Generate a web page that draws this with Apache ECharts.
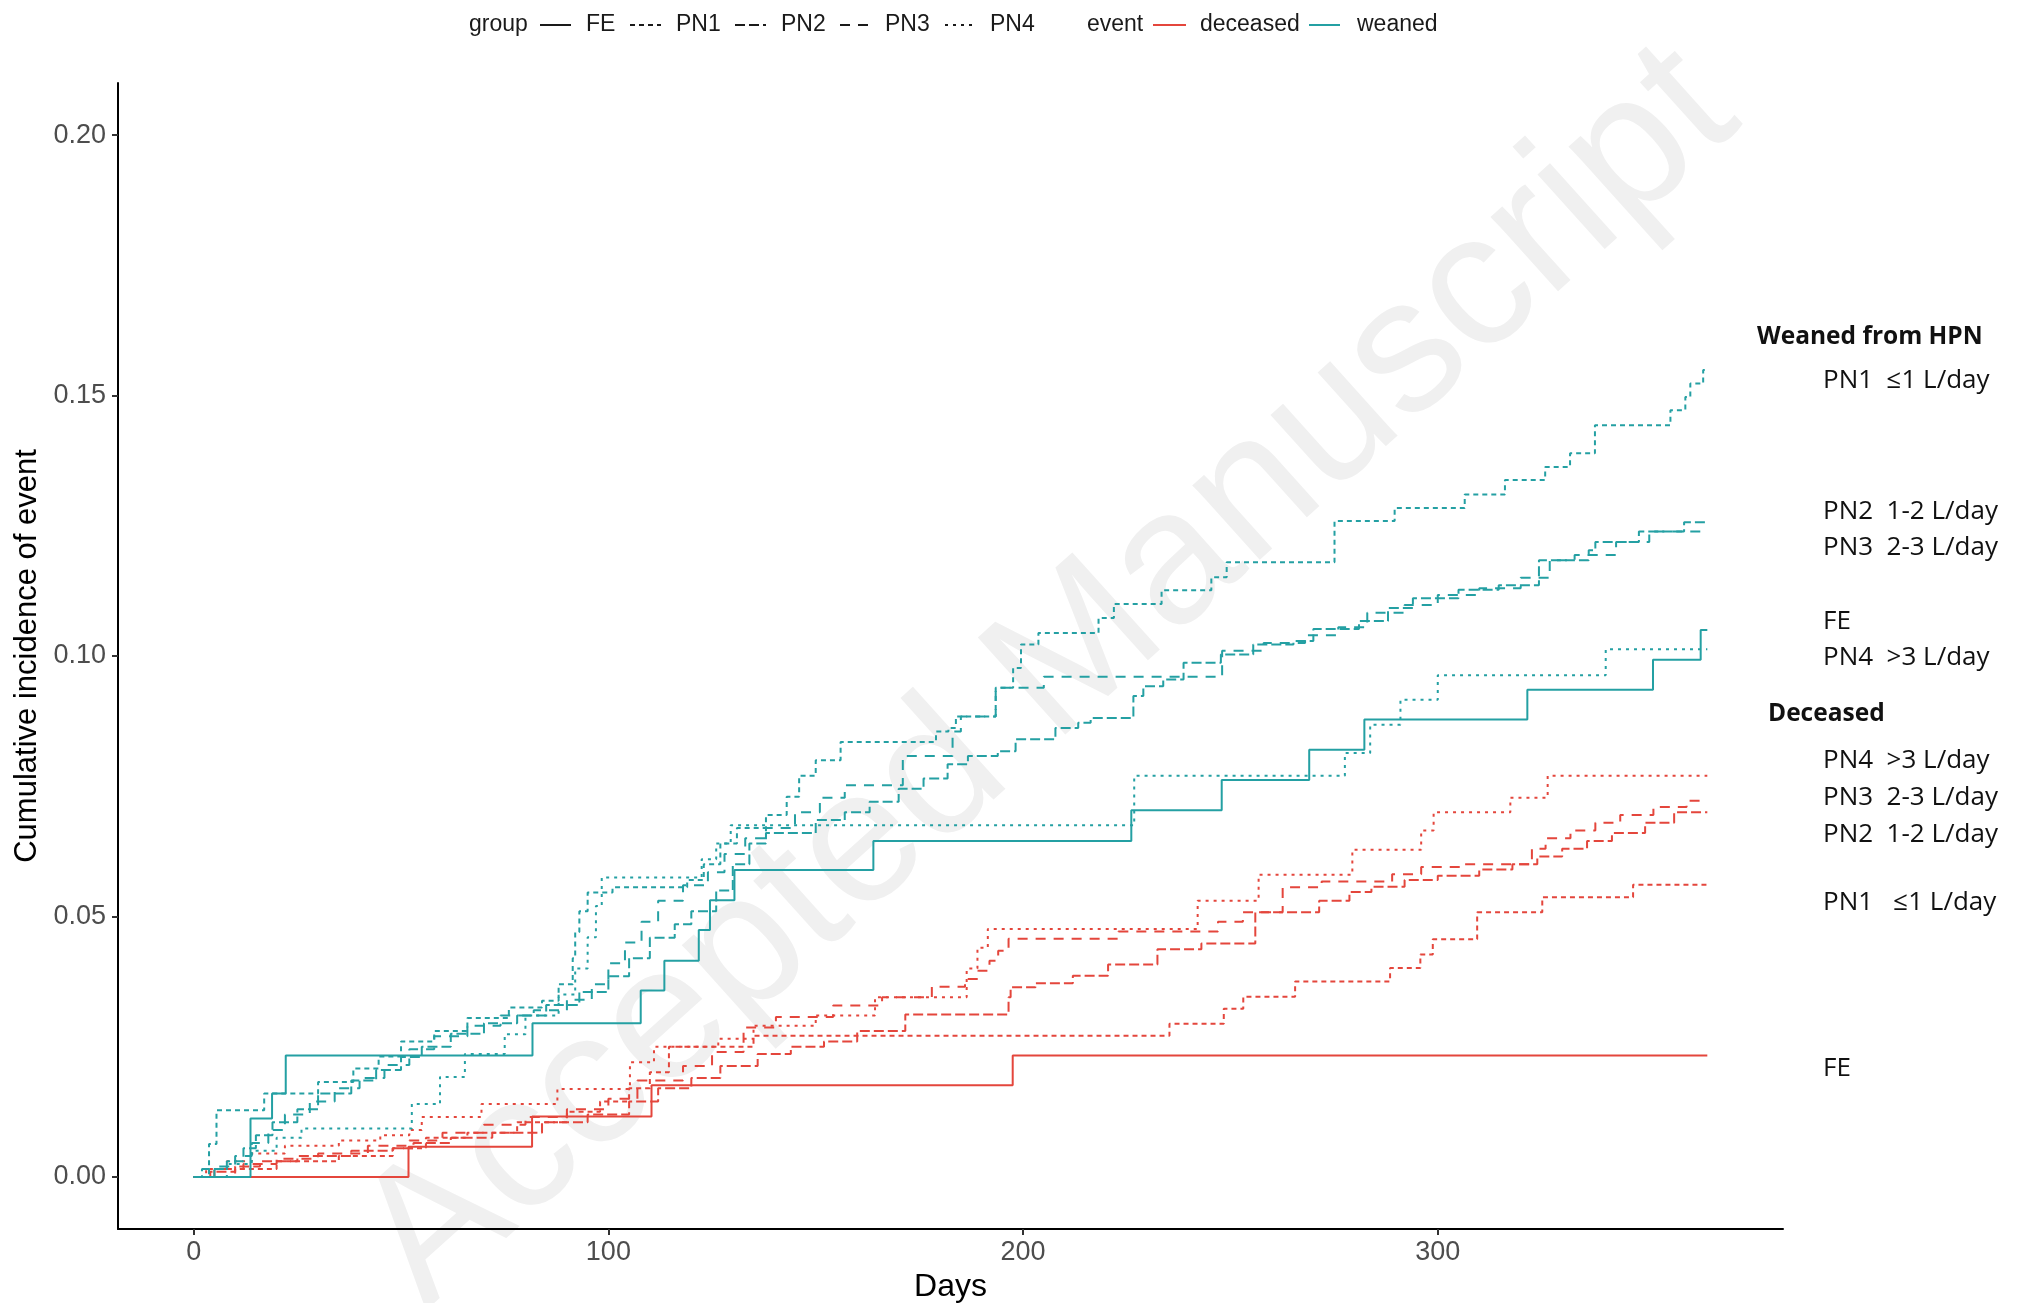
<!DOCTYPE html>
<html>
<head>
<meta charset="utf-8">
<script src="https://cdn.jsdelivr.net/npm/echarts@6/dist/echarts.min.js"></script>
<style>
html,body{margin:0;padding:0;background:#fff;}
#chart{width:2022px;height:1303px;}
</style>
</head>
<body>
<div id="chart"></div>
<script>
// ---------------- data (day, cumulative incidence) ----------------
const groups = ['FE', 'PN1', 'PN2', 'PN3', 'PN4'];
const events = ['deceased', 'weaned'];
const xTicks = [0, 100, 200, 300];
const yTicks = [0, 0.05, 0.10, 0.15, 0.20];

const FE_weaned = [[0,0],[13.7,0.0112],[18.9,0.016],[22.2,0.0233],[81.7,0.0295],[107.8,0.0358],[113.5,0.0415],[121.8,0.0474],[124.5,0.0531],[130.4,0.0589],[163.9,0.0645],[226.1,0.0704],[247.9,0.0762],[269,0.0820],[282.3,0.0878],[321.6,0.0935],[351.9,0.0993],[363.4,0.1050],[365,0.1050]];
const PN1_weaned = [[0,0],[3.7,0.0063],[5.5,0.0128],[17,0.016],[30,0.0182],[38.5,0.0208],[44.6,0.0231],[50,0.026],[58,0.028],[66,0.0305],[76,0.0325],[84,0.0338],[88,0.037],[91.4,0.042],[92,0.047],[93,0.051],[95,0.0546],[101,0.0556],[119,0.057],[123,0.060],[127,0.064],[131,0.067],[138,0.0695],[143,0.073],[146,0.077],[150,0.080],[156,0.0835],[179,0.0855],[182,0.0862],[183.8,0.0884],[193.4,0.0939],[197.6,0.0977],[199.5,0.1022],[203.7,0.1044],[218.2,0.1073],[221.9,0.110],[233.4,0.1126],[245.4,0.1151],[249.1,0.118],[275.1,0.1259],[289.6,0.1284],[306.5,0.131],[316.2,0.1338],[325.9,0.1363],[331.9,0.1389],[337.9,0.1443],[356.1,0.1472],[359.7,0.1497],[360.9,0.1523],[364,0.1549],[365,0.1549]];
const PN2_weaned = [[0,0],[2,0.0015],[8,0.003],[12,0.0055],[15,0.008],[19,0.0105],[25,0.013],[30,0.016],[38,0.0185],[44,0.0205],[50,0.023],[55,0.025],[62,0.0275],[70,0.0295],[78,0.031],[85,0.033],[93,0.0355],[100,0.0385],[105,0.042],[110,0.0459],[116,0.0485],[120,0.051],[126,0.055],[130,0.060],[134,0.064],[138,0.066],[150,0.0685],[157,0.0700],[163,0.072],[170,0.0745],[176,0.0765],[181.8,0.0792],[186.7,0.0808],[193.9,0.0817],[198.2,0.0840],[207.8,0.0862],[213.3,0.0872],[216.3,0.0881],[226.6,0.0923],[229,0.0942],[233.8,0.0955],[238.7,0.0987],[247.7,0.1003],[255.5,0.1022],[265.2,0.1029],[270,0.1052],[281,0.1067],[288,0.1092],[294,0.1111],[305,0.1127],[314.7,0.1136],[324.4,0.1184],[336.4,0.1203],[338,0.1219],[348.5,0.1239],[359.4,0.1257],[365,0.1257]];
const PN3_weaned = [[0,0],[5,0.002],[10,0.004],[14,0.0065],[18,0.009],[22,0.012],[28,0.0145],[34,0.017],[40,0.019],[46,0.0215],[52,0.0245],[58,0.027],[66,0.029],[74,0.031],[82,0.032],[90,0.034],[96,0.037],[100,0.041],[104,0.045],[108,0.049],[112,0.053],[118,0.056],[124,0.0585],[128,0.062],[133,0.065],[138,0.067],[145,0.070],[151,0.0728],[157,0.0752],[171,0.0808],[183,0.0855],[185,0.0884],[193.4,0.0939],[205,0.0960],[248,0.1010],[258,0.1025],[268,0.1040],[276,0.1055],[283,0.1083],[292,0.1098],[300,0.1117],[310,0.1130],[320,0.1150],[327,0.1184],[333,0.1194],[343,0.1219],[351,0.1239],[365,0.1239]];
const PN4_weaned = [[0,0],[8,0.0025],[14,0.005],[20,0.0075],[26,0.0093],[52.6,0.014],[59.4,0.0192],[65.4,0.0236],[75,0.0274],[80,0.031],[88,0.035],[92,0.040],[95,0.046],[97,0.052],[98.4,0.0575],[122.5,0.061],[126,0.064],[129.5,0.0675],[226.8,0.0770],[277.6,0.0814],[283.7,0.0868],[291,0.0916],[300,0.0963],[340.5,0.1013],[365,0.1013]];

const FE_deceased = [[0,0],[51.8,0.0058],[81.6,0.0116],[110.4,0.0176],[197.5,0.0233],[365,0.0233]];
const PN1_deceased = [[0,0],[10,0.0015],[20,0.003],[35,0.004],[48,0.0055],[56,0.0075],[66,0.0085],[78,0.0105],[90,0.0125],[98,0.0145],[105,0.017],[110,0.0201],[114.6,0.0250],[135,0.0271],[235.3,0.0294],[248.4,0.0323],[253.1,0.0346],[265.6,0.0375],[288.5,0.0401],[295.8,0.0427],[298.8,0.0456],[309.5,0.0508],[325.2,0.0537],[347.1,0.0561],[365,0.0561]];
const PN2_deceased = [[0,0],[4,0.001],[10,0.002],[16,0.003],[25,0.004],[38,0.005],[48,0.0055],[53,0.0065],[62,0.0075],[72,0.0085],[84,0.0105],[95,0.012],[105,0.0145],[112,0.0170],[120,0.019],[127,0.0213],[136,0.0236],[144,0.0250],[152,0.026],[160,0.0280],[171.6,0.0312],[196.5,0.0345],[197,0.0364],[203,0.0372],[212,0.0386],[220.5,0.0408],[232.4,0.0437],[243,0.0448],[256,0.0508],[271.4,0.053],[278.7,0.0547],[284,0.0557],[292,0.0570],[300,0.0578],[310,0.0590],[318,0.0600],[324,0.0615],[330,0.0630],[336,0.0645],[342,0.0660],[350,0.0680],[357,0.0700],[365,0.0700]];
const PN3_deceased = [[0,0],[5,0.0015],[12,0.0025],[20,0.0035],[30,0.0045],[42,0.006],[52,0.007],[60,0.0085],[70,0.010],[80,0.0115],[90,0.013],[100,0.015],[107,0.0185],[118,0.0213],[125,0.024],[132.6,0.0287],[140.4,0.0307],[154.2,0.0329],[166,0.0345],[178,0.0365],[186,0.0380],[189.2,0.0396],[191.9,0.0415],[194,0.0434],[196.5,0.0457],[223,0.0471],[247,0.049],[253,0.0508],[262.6,0.0556],[272,0.0567],[289,0.0581],[296,0.0595],[306.6,0.0600],[322.7,0.0630],[326,0.0650],[332,0.0665],[338,0.0680],[344,0.0695],[352,0.0710],[360,0.0722],[365,0.0722]];
const PN4_deceased = [[0,0],[3,0.0015],[8,0.003],[14,0.0045],[22,0.006],[35,0.007],[45,0.008],[52,0.009],[55,0.0115],[69.4,0.014],[87.7,0.0169],[105.2,0.022],[111,0.025],[126.5,0.0265],[135,0.0290],[150,0.0310],[164.3,0.0345],[186.4,0.0400],[189,0.0440],[191.5,0.0476],[242.1,0.053],[256.8,0.058],[279.4,0.0628],[296,0.0665],[299,0.0700],[317.5,0.0728],[326.5,0.0770],[365,0.0770]];

const curves = {
  deceased: {FE: FE_deceased, PN1: PN1_deceased, PN2: PN2_deceased, PN3: PN3_deceased, PN4: PN4_deceased},
  weaned:   {FE: FE_weaned,   PN1: PN1_weaned,   PN2: PN2_weaned,   PN3: PN3_weaned,   PN4: PN4_weaned}
};

// right-hand annotation texts
const weanedTitle = 'Weaned from HPN';
const weanedLabels = ['PN1  \u22641 L/day', 'PN2  1-2 L/day', 'PN3  2-3 L/day', 'FE', 'PN4  >3 L/day'];
const deceasedTitle = 'Deceased';
const deceasedLabels = ['PN4  >3 L/day', 'PN3  2-3 L/day', 'PN2  1-2 L/day', 'PN1   \u22641 L/day', 'FE'];

// ---------------- styles ----------------
const eventColor = {deceased: '#E4463C', weaned: '#24A0A3'};
const groupDash = {FE: 'solid', PN1: [5, 4], PN2: [10, 4], PN3: [10, 8], PN4: [3, 5]};
const AX = '"Liberation Sans", Arial, sans-serif';
const ANN = '"Open Sans", "Noto Sans", sans-serif';

const series = [];
events.forEach(ev => {
  groups.forEach(g => {
    series.push({
      name: g + ' ' + ev,
      type: 'line',
      step: 'end',
      showSymbol: false,
      symbol: 'none',
      silent: true,
      animation: false,
      data: curves[ev][g],
      lineStyle: {color: eventColor[ev], width: 2, type: groupDash[g]},
      z: 3
    });
  });
});

// ---------------- graphics: legend, annotations, watermark ----------------
function txt(x, y, text, font, color, align) {
  return {
    type: 'text', x: x, y: y, silent: true, z: 10,
    style: {text: text, font: font, fill: color || '#111',
      align: align || 'left', verticalAlign: 'middle',
      textAlign: align || 'left', textVerticalAlign: 'middle'}
  };
}
function seg(x1, x2, y, color, dash) {
  return {
    type: 'line', silent: true, z: 10,
    shape: {x1: x1, y1: y, x2: x2, y2: y},
    style: {stroke: color, lineWidth: 2, lineDash: dash === 'solid' ? null : dash}
  };
}
const LF = '23px ' + AX;
const LY = 25;
const DX = -4;
const graphics = [];
// watermark
graphics.push({
  type: 'text', x: 1050, y: 678, rotation: 42 * Math.PI / 180, silent: true, z: -10,
  style: {text: 'Accepted Manuscript', font: '190px ' + AX, fill: '#f0f0f0',
    align: 'center', verticalAlign: 'middle', textAlign: 'center', textVerticalAlign: 'middle'}
});
// legend
graphics.push(txt(473 + DX, LY, 'group', LF, '#1a1a1a'));
const legX = [[544, 590], [634, 680], [739, 785], [844, 889], [949, 994]];
groups.forEach((g, i) => {
  graphics.push(seg(legX[i][0] + DX, legX[i][0] + 31 + DX, LY, '#1a1a1a', groupDash[g]));
  graphics.push(txt(legX[i][1] + DX, LY, g, LF, '#1a1a1a'));
});
graphics.push(txt(1091 + DX, LY, 'event', LF, '#1a1a1a'));
graphics.push(seg(1157 + DX, 1190 + DX, LY, eventColor.deceased, 'solid'));
graphics.push(txt(1204 + DX, LY, 'deceased', LF, '#1a1a1a'));
graphics.push(seg(1313 + DX, 1344 + DX, LY, eventColor.weaned, 'solid'));
graphics.push(txt(1361 + DX, LY, 'weaned', LF, '#1a1a1a'));
// annotations
const BF = 'bold 24.5px ' + ANN;
const RF = '26px ' + ANN;
graphics.push(txt(1757, 337, weanedTitle, BF, '#111'));
[381, 512, 548, 622, 658].forEach((y, i) => graphics.push(txt(1823, y, weanedLabels[i], RF, '#111')));
graphics.push(txt(1768, 714, deceasedTitle, BF, '#111'));
[761, 798, 835, 903, 1069].forEach((y, i) => graphics.push(txt(1823, y, deceasedLabels[i], RF, '#111')));

// ---------------- chart ----------------
const chart = echarts.init(document.getElementById('chart'), null, {renderer: 'canvas'});
chart.setOption({
  backgroundColor: '#ffffff',
  animation: false,
  grid: {left: 118, right: 239, top: 83, bottom: 74, containLabel: false, outerBoundsMode: 'none'},
  xAxis: {
    type: 'value', min: -18.25, max: 383.25,
    name: 'Days', nameLocation: 'middle', nameGap: 35,
    nameTextStyle: {fontFamily: AX, fontSize: 32, color: '#000'},
    axisLine: {show: true, onZero: false, lineStyle: {color: '#000', width: 2}},
    axisTick: {show: true, inside: false, length: 6, customValues: xTicks, lineStyle: {color: '#333', width: 2}},
    axisLabel: {customValues: xTicks, fontFamily: AX, fontSize: 27, color: '#4D4D4D', margin: 10},
    splitLine: {show: false}
  },
  yAxis: {
    type: 'value', min: -0.01, max: 0.21,
    name: 'Cumulative incidence of event', nameLocation: 'middle', nameGap: 72,
    nameTextStyle: {fontFamily: AX, fontSize: 31, color: '#000'},
    axisLine: {show: true, onZero: false, lineStyle: {color: '#000', width: 2}},
    axisTick: {show: true, inside: false, length: 6, customValues: yTicks, lineStyle: {color: '#333', width: 2}},
    axisLabel: {customValues: yTicks, fontFamily: AX, fontSize: 27, color: '#4D4D4D', margin: 12,
      formatter: v => v.toFixed(2)},
    splitLine: {show: false}
  },
  series: series,
  graphic: graphics
});
</script>
</body>
</html>
